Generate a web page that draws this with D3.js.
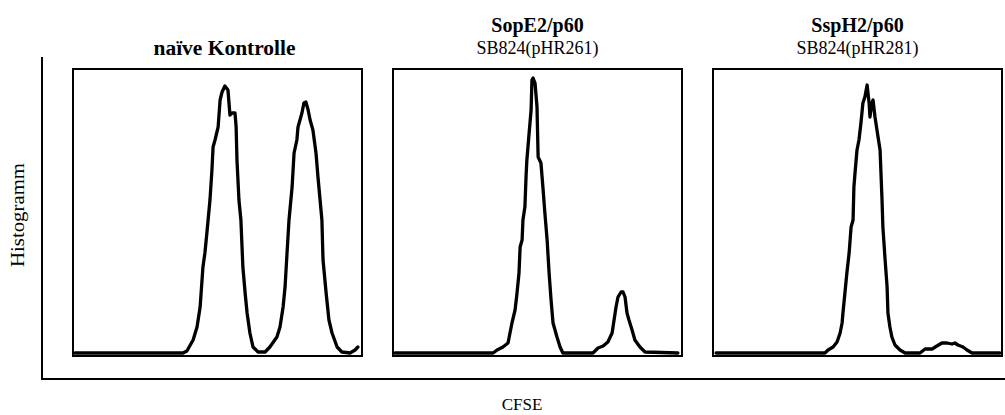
<!DOCTYPE html>
<html>
<head>
<meta charset="utf-8">
<script src="https://cdn.jsdelivr.net/npm/d3@7"></script>
<style>
  body { margin: 0; background: #fff; }
  svg { display: block; font-family: "Liberation Serif", "Times New Roman", serif; }
</style>
</head>
<body>
<svg id="chart"></svg>
<script>
const width = 1005, height = 415;

// panel titles
const titles = ["naïve Kontrolle", "SopE2/p60", "SspH2/p60"];
const subtitles = [null, "SB824(pHR261)", "SB824(pHR281)"];

// CFSE channel vs. cell count
const naive = [
  [7,1],[391,1],[405,3],[427,14],[441,27],[452,47],[462,87],[469,101],[476,121],[487,154],
  [494,184],[498,207],[505,214],[516,227],[523,254],[530,262],[540,268],[551,264],[558,239],
  [565,241],[576,241],[580,227],[583,194],[590,154],[597,134],[604,87],[612,61],[619,41],
  [629,21],[640,7],[658,2],[683,2],[700,7],[725,17],[736,27],[747,47],[754,67],[761,101],
  [768,134],[779,167],[786,201],[796,214],[800,227],[814,241],[821,251],[828,252],[836,244],
  [843,234],[853,224],[864,201],[871,177],[885,134],[889,94],[900,61],[910,34],[921,21],
  [939,7],[956,2],[985,1],[1003,4],[1013,7]
];
const sopE2 = [
  [7,1],[356,1],[370,4],[391,7],[409,11],[416,21],[423,31],[434,44],[441,61],[448,81],
  [452,107],[459,114],[462,134],[469,147],[473,177],[476,194],[484,221],[491,244],[494,274],
  [498,276],[505,271],[512,247],[516,197],[526,191],[533,167],[540,141],[548,114],[555,81],
  [562,54],[569,31],[583,17],[594,7],[604,1],[711,1],[729,6],[747,8],[764,12],[779,21],
  [786,34],[793,47],[800,57],[811,62],[818,62],[825,57],[832,41],[839,34],[850,24],[860,14],
  [878,7],[896,2],[1013,1]
];
const sspH2 = [
  [11,1],[398,1],[409,4],[427,7],[441,12],[452,21],[459,31],[462,41],[469,61],[476,81],
  [484,101],[491,127],[498,134],[501,167],[505,181],[512,204],[519,214],[526,231],[533,251],
  [540,257],[548,269],[551,261],[555,251],[558,237],[565,251],[569,254],[576,237],[583,224],
  [594,204],[601,154],[604,127],[612,94],[619,67],[622,41],[629,27],[636,17],[647,9],[665,4],
  [683,1],[736,1],[754,5],[779,5],[796,8],[814,11],[832,11],[850,10],[860,11],[871,9],
  [889,7],[903,4],[921,1],[1020,1]
];
const series = [naive, sopE2, sspH2];

const svg = d3.select("#chart").attr("width", width).attr("height", height);

const panelLefts = [73, 393, 713];
const panelW = 289, panelTop = 69, panelBottom = 356;

// outer axes (L shape)
svg.append("line")
  .attr("x1", 42).attr("y1", 57).attr("x2", 42).attr("y2", 379)
  .attr("stroke", "#000").attr("stroke-width", 2);
svg.append("line")
  .attr("x1", 41).attr("y1", 379).attr("x2", width).attr("y2", 379)
  .attr("stroke", "#000").attr("stroke-width", 2);

svg.append("text")
  .attr("transform", "translate(24,215) rotate(-90)")
  .attr("text-anchor", "middle").attr("font-size", "18px")
  .attr("textLength", 104).attr("lengthAdjust", "spacingAndGlyphs")
  .text("Histogramm");

svg.append("text")
  .attr("x", 522).attr("y", 410)
  .attr("text-anchor", "middle").attr("font-size", "17px")
  .text("CFSE");

const y = d3.scaleLinear().domain([0, 285]).range([354, 69]);

series.forEach((data, i) => {
  const left = panelLefts[i];
  const x = d3.scaleLinear().domain([0, 1024]).range([left, left + 288]);
  const g = svg.append("g");

  g.append("rect")
    .attr("x", left).attr("y", panelTop)
    .attr("width", panelW).attr("height", panelBottom - panelTop)
    .attr("fill", "none").attr("stroke", "#000").attr("stroke-width", 2);

  const line = d3.line().x(d => x(d[0])).y(d => y(d[1]));
  g.append("path")
    .datum(data)
    .attr("d", line)
    .attr("fill", "none")
    .attr("stroke", "#000")
    .attr("stroke-width", 3.3)
    .attr("stroke-linejoin", "round")
    .attr("stroke-linecap", "round");

  const cx = left + panelW / 2;
  if (subtitles[i]) {
    g.append("text")
      .attr("x", cx).attr("y", 32)
      .attr("text-anchor", "middle").attr("font-size", "20px").attr("font-weight", "bold")
      .text(titles[i]);
    g.append("text")
      .attr("x", cx).attr("y", 54)
      .attr("text-anchor", "middle").attr("font-size", "18px")
      .text(subtitles[i]);
  } else {
    g.append("text")
      .attr("x", cx + 7).attr("y", 55)
      .attr("text-anchor", "middle").attr("font-size", "20px").attr("font-weight", "bold")
      .attr("textLength", 142).attr("lengthAdjust", "spacingAndGlyphs")
      .text(titles[i]);
  }
});
</script>
</body>
</html>
